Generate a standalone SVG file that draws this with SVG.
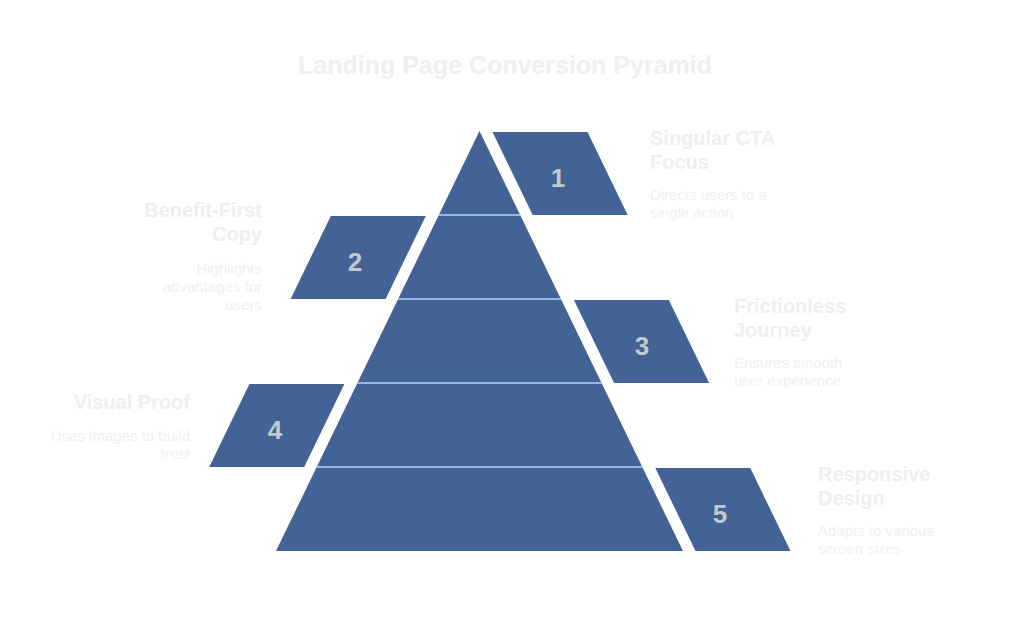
<svg xmlns="http://www.w3.org/2000/svg" width="1009" height="624" viewBox="0 0 1009 624">
<style>
.tier{fill:#436296}
.box{fill:#436296}
.sep{stroke:#bcd2f0;stroke-width:1.5}
.num{font-family:"Liberation Sans",Arial,sans-serif;font-weight:bold;font-size:26px;fill:#c4c7cc;text-anchor:middle}
.title{font-family:"Liberation Sans",Arial,sans-serif;font-weight:bold;font-size:25px;fill:#f0f0f0;text-anchor:middle}
.head{font-family:"Liberation Sans",Arial,sans-serif;font-weight:bold;font-size:20px;fill:#efefef}
.desc{font-family:"Liberation Sans",Arial,sans-serif;font-size:15px;fill:#f1f1f1}
.r{text-anchor:end}
</style>
<rect width="1009" height="624" fill="#ffffff"/>
<text class="title" x="505" y="74">Landing Page Conversion Pyramid</text>
<g id="pyramid">
<polygon class="tier" points="479.5,131 520.2,215 438.8,215"/>
<polygon class="tier" points="438.8,215 520.2,215 560.9,299 398.1,299"/>
<polygon class="tier" points="398.1,299 560.9,299 601.6,383 357.4,383"/>
<polygon class="tier" points="357.4,383 601.6,383 642.3,467 316.7,467"/>
<polygon class="tier" points="316.7,467 642.3,467 683,551 276,551"/>
<line class="sep" x1="438.8" y1="215" x2="520.2" y2="215"/>
<line class="sep" x1="398.1" y1="299" x2="560.9" y2="299"/>
<line class="sep" x1="357.4" y1="383" x2="601.6" y2="383"/>
<line class="sep" x1="316.7" y1="467" x2="642.3" y2="467"/>
</g>
<g id="node1">
<polygon class="box" points="492.5,132 587.5,132 627.7,215 532.7,215"/>
<text class="num" x="558" y="187">1</text>
<text class="head" x="650" y="145">Singular CTA</text>
<text class="head" x="650" y="169">Focus</text>
<text class="desc" x="650" y="200">Directs users to a</text>
<text class="desc" x="650" y="218">single action</text>
</g>
<g id="node2">
<polygon class="box" points="330.8,216 425.8,216 385.6,299 290.6,299"/>
<text class="num" x="355" y="271">2</text>
<text class="head r" x="262" y="217">Benefit-First</text>
<text class="head r" x="262" y="241">Copy</text>
<text class="desc r" x="262" y="274">Highlights</text>
<text class="desc r" x="262" y="292">advantages for</text>
<text class="desc r" x="262" y="310">users</text>
</g>
<g id="node3">
<polygon class="box" points="573.9,300 668.9,300 709.1,383 614.1,383"/>
<text class="num" x="642" y="355">3</text>
<text class="head" x="734" y="313">Frictionless</text>
<text class="head" x="734" y="337">Journey</text>
<text class="desc" x="734" y="368">Ensures smooth</text>
<text class="desc" x="734" y="386">user experience</text>
</g>
<g id="node4">
<polygon class="box" points="249.4,384 344.4,384 304.2,467 209.2,467"/>
<text class="num" x="275" y="439">4</text>
<text class="head r" x="190" y="409">Visual Proof</text>
<text class="desc r" x="190" y="441">Uses images to build</text>
<text class="desc r" x="190" y="459">trust</text>
</g>
<g id="node5">
<polygon class="box" points="655.3,468 750.3,468 790.5,551 695.5,551"/>
<text class="num" x="720" y="523">5</text>
<text class="head" x="818" y="481">Responsive</text>
<text class="head" x="818" y="505">Design</text>
<text class="desc" x="818" y="536">Adapts to various</text>
<text class="desc" x="818" y="554">screen sizes</text>
</g>
<g id="connectors"></g>
</svg>
